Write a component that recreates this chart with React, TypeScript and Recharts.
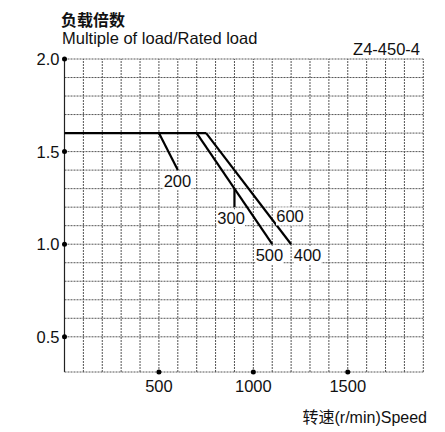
import React from 'react';
import { LineChart, Line, XAxis, YAxis, ReferenceLine, ReferenceDot } from 'recharts';

// load multiple curves, speed (r/min) vs multiple of rated load
const baseLine = [{ x: 0, y: 1.6 }, { x: 750, y: 1.6 }];
const curve200 = [{ x: 500, y: 1.6 }, { x: 600, y: 1.4 }];
const curve500 = [{ x: 700, y: 1.6 }, { x: 1100, y: 1.0 }];
const curve400 = [{ x: 750, y: 1.6 }, { x: 1200, y: 1.0 }];
const curve300 = [{ x: 900, y: 1.3 }, { x: 900, y: 1.2 }];

const curveLabels = [
  { text: '200', x: 598, y: 1.34 },
  { text: '300', x: 882, y: 1.14 },
  { text: '600', x: 1194, y: 1.15 },
  { text: '500', x: 1085, y: 0.94 },
  { text: '400', x: 1287, y: 0.94 },
];

const xTicks = [500, 1000, 1500];
const yTicks = [0.5, 1.0, 1.5, 2.0];
const xGrid = [100, 200, 300, 400, 500, 600, 700, 800, 900, 1000, 1100, 1200, 1300, 1400, 1500, 1600, 1700, 1800, 1900];
const yGrid = [0.5, 0.6, 0.7, 0.8, 0.9, 1.0, 1.1, 1.2, 1.3, 1.4, 1.5, 1.6, 1.7, 1.8, 1.9, 2.0];

const FONT = '"Liberation Sans", Arial, sans-serif';
const CJK = '"Noto Sans CJK SC", sans-serif';

const YTick = ({ x, y, payload }: any) => (
  <g>
    <circle cx={x} cy={y} r={2.5} fill="#000" />
    <text x={x - 5} y={y + 6} textAnchor="end" fontSize={16.5} fontFamily={FONT} fill="#111">
      {Number(payload.value).toFixed(1)}
    </text>
  </g>
);

const XTick = ({ x, y, payload }: any) => (
  <g>
    <circle cx={x} cy={y} r={2.5} fill="#000" />
    <text x={x} y={y + 20} textAnchor="middle" fontSize={16.5} fontFamily={FONT} fill="#111">
      {payload.value}
    </text>
  </g>
);

const CurveLabel = ({ viewBox, value }: any) => {
  const cx = viewBox.x + (viewBox.width || 0) / 2;
  const cy = viewBox.y + (viewBox.height || 0) / 2;
  return (
    <g>
      <rect x={cx - 14} y={cy - 9} width={28} height={18} fill="#fff" />
      <text x={cx} y={cy + 6} textAnchor="middle" fontSize={16.5} fontFamily={FONT} fill="#111">
        {value}
      </text>
    </g>
  );
};

const gridStroke = '#555';

export default function App() {
  return (
    <div style={{ position: 'absolute', left: 0, top: 0, width: 445, height: 432, background: '#fff' }}>
      <LineChart width={445} height={432} margin={{ top: 59, right: 21.7, bottom: 30, left: 0 }}>
        <XAxis
          type="number"
          dataKey="x"
          domain={[0, 1900]}
          ticks={xTicks}
          axisLine={false}
          tickLine={false}
          tickSize={0}
          tickMargin={0}
          height={30}
          tick={<XTick />}
          allowDuplicatedCategory={false}
        />
        <YAxis
          type="number"
          dataKey="y"
          domain={[0.31, 2.0]}
          ticks={yTicks}
          axisLine={false}
          tickLine={false}
          tickSize={0}
          tickMargin={0}
          width={64.5}
          tick={<YTick />}
        />
        {xGrid.map((v) => (
          <ReferenceLine key={`gx-${v}`} x={v} stroke={gridStroke} strokeWidth={1} strokeDasharray="2 1" />
        ))}
        {yGrid.map((v) => (
          <ReferenceLine key={`gy-${v}`} y={v} stroke={gridStroke} strokeWidth={1} strokeDasharray="2 1" />
        ))}
        <ReferenceLine x={0} stroke="#222" strokeWidth={1.2} />
        <ReferenceLine y={0.31} stroke={gridStroke} strokeWidth={1} strokeDasharray="2 1" />
        <Line data={baseLine} dataKey="y" stroke="#000" strokeWidth={2.2} dot={false} isAnimationActive={false} />
        <Line data={curve200} dataKey="y" stroke="#000" strokeWidth={2.2} dot={false} isAnimationActive={false} />
        <Line data={curve500} dataKey="y" stroke="#000" strokeWidth={2.2} dot={false} isAnimationActive={false} />
        <Line data={curve400} dataKey="y" stroke="#000" strokeWidth={2.2} dot={false} isAnimationActive={false} />
        <Line data={curve300} dataKey="y" stroke="#000" strokeWidth={2.2} dot={false} isAnimationActive={false} />
        {curveLabels.map((l) => (
          <ReferenceDot
            key={l.text}
            x={l.x}
            y={l.y}
            r={0}
            stroke="none"
            fill="none"
            label={<CurveLabel value={l.text} />}
          />
        ))}
      </LineChart>
      <svg width={445} height={432} style={{ position: 'absolute', left: 0, top: 0, pointerEvents: 'none' }}>
        <text x={61} y={26} fontSize={16} fontWeight="bold" fontFamily={CJK} fill="#111">负载倍数</text>
        <text x={62} y={44} fontSize={16.5} fontFamily={FONT} fill="#111">Multiple of load/Rated load</text>
        <text x={420} y={55} fontSize={16.5} textAnchor="end" fontFamily={FONT} fill="#111">Z4-450-4</text>
        <text x={427} y={423} fontSize={16} textAnchor="end" fontFamily={FONT} fill="#111">
          <tspan fontFamily={CJK}>转速</tspan>(r/min)Speed
        </text>
      </svg>
    </div>
  );
}
